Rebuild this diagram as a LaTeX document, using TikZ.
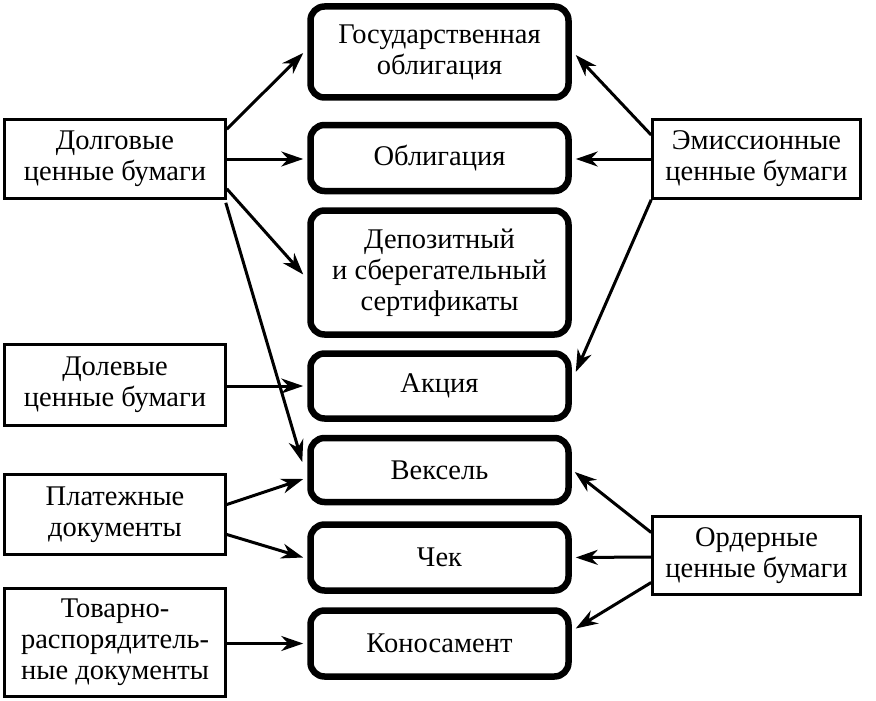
\documentclass[tikz,border=0pt]{standalone}
\usepackage{fontspec}
\setmainfont{Liberation Serif}
\usetikzlibrary{arrows.meta,calc}
\tikzset{
  txt/.style={font=\fontsize{28.5}{31}\selectfont, align=center, inner sep=0pt},
  sidebox/.style={txt, draw, line width=2.6pt, minimum width=221pt},
  rsidebox/.style={txt, draw, line width=2.6pt, minimum width=208pt},
  midbox/.style={txt, draw, line width=6.5pt, rounded corners=14pt, minimum width=258pt},
  conn/.style={line width=3pt, -{Stealth[length=22pt,width=15pt,inset=7pt]}}
}
\begin{document}
\begin{tikzpicture}[x=1pt,y=-1pt]
\useasboundingbox (0,0) rectangle (876,701);
% middle column
\node[midbox, minimum height=91pt] (gos) at (439.5,52) {Государственная\\облигация};
\node[midbox, minimum height=66pt] (obl) at (439.5,158) {Облигация};
\node[midbox, minimum height=124pt] (dep) at (439.5,272.5) {Депозитный\\и сберегательный\\сертификаты};
\node[midbox, minimum height=65pt] (akc) at (439.5,386) {Акция};
\node[midbox, minimum height=64pt] (veks) at (439.5,470) {Вексель};
\node[midbox, minimum height=66pt] (chek) at (439.5,557.5) {Чек};
\node[midbox, minimum height=66pt] (kon) at (439.5,643.5) {Коносамент};
% left column
\node[sidebox, minimum height=79pt] (dolg) at (115,159) {Долговые\\ценные бумаги};
\node[sidebox, minimum height=81pt] (dolev) at (115,385) {Долевые\\ценные бумаги};
\node[sidebox, minimum height=80pt] (plat) at (115,514.5) {Платежные\\документы};
\node[sidebox, minimum height=108pt] (tov) at (115,642.5) {Товарно-\\распорядитель-\\ные документы};
% right column
\node[rsidebox, minimum height=79pt] (emis) at (756.5,159) {Эмиссионные\\ценные бумаги};
\node[rsidebox, minimum height=78pt] (ord) at (756.5,555.5) {Ордерные\\ценные бумаги};
% connectors left
\draw[conn] ($(dolg.north east)+(0,11)$) -- ($(gos.west)+(-4,1)$);
\draw[conn] (dolg.east) -- ($(obl.west)+(-4,1)$);
\draw[conn] ($(dolg.south east)+(0,-11)$) -- ($(dep.west)+(-4,2)$);
\draw[conn] ($(dolg.south east)+(-1,3)$) -- ($(veks.west)+(-5,-8)$);
\draw[conn] ($(dolev.east)+(0,1)$) -- ($(akc.west)+(-4,0)$);
\draw[conn] ($(plat.east)+(0,-10)$) -- ($(veks.west)+(-4,9)$);
\draw[conn] ($(plat.east)+(0,20)$) -- ($(chek.west)+(-4,0)$);
\draw[conn] ($(tov.east)+(0,1)$) -- ($(kon.west)+(-4,0)$);
% connectors right
\draw[conn] ($(emis.west)+(0,-24)$) -- ($(gos.east)+(4,3)$);
\draw[conn] (emis.west) -- ($(obl.east)+(4,1)$);
\draw[conn] (emis.south west) -- ($(akc.east)+(4,-14)$);
\draw[conn] ($(ord.west)+(0,-23)$) -- ($(veks.east)+(3,2)$);
\draw[conn] ($(ord.west)+(0,1.5)$) -- ($(chek.east)+(4,0)$);
\draw[conn] ($(ord.west)+(0,27)$) -- ($(kon.east)+(4,-15)$);
\end{tikzpicture}
\end{document}
